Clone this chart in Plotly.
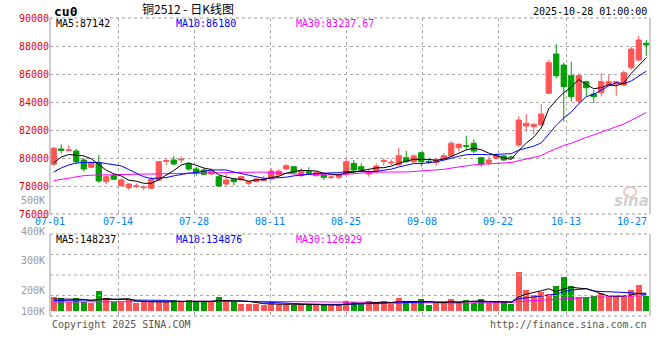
import plotly.graph_objects as go
import pandas as pd

# ---------------- data ----------------
tick_labels = ["07-01", "07-14", "07-28", "08-11", "08-25", "09-08", "09-22", "10-13", "10-27"]
tick_index = [0, 9, 19, 29, 39, 49, 59, 68, 78]

opens = [79550, 80643, 80550, 80500, 79857, 79336, 79643, 78307, 78736, 78021,
         77879, 77980, 77880, 77836, 78420, 79760, 79857, 79860, 79571, 79214,
         79143, 78857, 78664, 78143, 78479, 78429, 78193, 78307, 78380, 78500,
         78786, 79214, 79380, 78736, 79021, 78736, 78786, 78600, 78620, 78836,
         79620, 79380, 78857, 79093, 79760, 79640, 79500, 80021, 79736, 80379,
         79760, 79690, 79930, 80143, 80736, 80880, 81050, 80021, 79664, 79980,
         80143, 80070, 80929, 82286, 82236, 82357, 84621, 87429, 86643, 85879,
         84071, 85450, 84571, 84664, 85214, 85286, 85214, 86450, 87000, 88190]
highs = [80807, 80979, 80930, 80643, 80021, 79736, 80214, 78736, 78836, 78550,
         78193, 78193, 78071, 78664, 79786, 79980, 80143, 80090, 79620, 79380,
         79290, 79264, 78740, 78907, 78479, 78700, 78380, 78550, 78740, 79264,
         79190, 79571, 79400, 79264, 79336, 79071, 78857, 78736, 78900, 79980,
         79857, 79620, 79143, 79620, 79980, 79900, 80736, 80520, 80264, 80450,
         79910, 80021, 80340, 81214, 81050, 81571, 81336, 80093, 80093, 80300,
         80214, 80164, 83000, 83143, 82479, 83857, 87000, 88143, 86807, 86880,
         86050, 85520, 84857, 86050, 85930, 85450, 86236, 87950, 88714, 88430]
lows = [79450, 80336, 80536, 79550, 79021, 79264, 78236, 78143, 78429, 77950,
        77714, 77836, 77714, 77786, 78357, 79500, 79500, 79660, 79090, 78736,
        78790, 78830, 77950, 78000, 78021, 78380, 78071, 78260, 78330, 78429,
        78736, 79143, 78907, 78664, 78857, 78664, 78429, 78479, 78500, 78786,
        79021, 79071, 78664, 78907, 79450, 79500, 79450, 79690, 79571, 79380,
        79571, 79450, 79860, 80093, 80500, 80570, 80336, 79380, 79500, 79900,
        79786, 79910, 80807, 81880, 81714, 82357, 84621, 85690, 82593, 84021,
        83900, 84430, 83930, 84380, 85214, 84450, 85143, 86286, 86930, 87286]
closes = [80693, 80550, 80570, 79736, 79214, 79664, 78357, 78664, 78479, 78429,
          78143, 78000, 77910, 78479, 79736, 79810, 79571, 79910, 79214, 78907,
          78836, 79021, 78000, 78429, 78307, 78664, 78307, 78500, 78500, 79071,
          79071, 79450, 78950, 79093, 78907, 78979, 78620, 78640, 78786, 79736,
          79143, 79143, 79021, 79430, 79810, 79690, 80164, 79736, 80143, 79736,
          79720, 79857, 80164, 81050, 80979, 80840, 80500, 79571, 79857, 80214,
          79857, 80030, 82714, 82479, 82400, 83143, 86807, 85879, 85093, 84380,
          85879, 85021, 84380, 85450, 85450, 85450, 86093, 87786, 88429, 88071]
volumes = [115000, 105000, 77000, 105000, 77000, 66000, 162000, 105000, 77000, 77000,
           88000, 66000, 74000, 77000, 77000, 77000, 88000, 77000, 88000, 77000,
           77000, 77000, 115000, 88000, 77000, 58000, 58000, 58000, 50000, 66000,
           58000, 58000, 50000, 58000, 50000, 50000, 50000, 47000, 47000, 85000,
           72000, 64000, 80000, 68000, 80000, 58000, 105000, 80000, 66000, 97000,
           47000, 66000, 72000, 97000, 68000, 88000, 68000, 97000, 66000, 74000,
           72000, 55000, 322000, 171000, 130000, 157000, 138000, 204000, 281000, 204000,
           115000, 115000, 124000, 149000, 115000, 115000, 115000, 171000, 212000, 121000]

# moving-average values before enough in-window data exists
ma5_head = [79640, 80070, 80250, 80214]
ma10_head = [79000, 79290, 79500, 79640, 79680, 79690, 79690, 79600, 79500]
ma30_head = [78380, 78480, 78580, 78680, 78740, 78770, 78790, 78800, 78810, 78820,
             78830, 78840, 78850, 78860, 78880, 78900, 78920, 78940, 78950, 78960,
             78970, 78980, 78990, 79000, 79000, 78990, 78990, 78990, 78990]
vma5_head = [100000, 100000, 98000, 100000]
vma10_head = [86000, 88000, 88000, 90000, 90000, 90000, 95000, 96000, 96000]
vma30_head = [74000, 74000, 75000, 75000, 75000, 76000, 76000, 77000, 77000, 77000,
              78000, 78000, 78000, 79000, 79000, 79000, 80000, 80000, 80000, 80000,
              81000, 81000, 81000, 82000, 82000, 82000, 82000, 82000, 82000]

price_ma_labels = ["MA5:87142", "MA10:86180", "MA30:83237.67"]
vol_ma_labels = ["MA5:148237", "MA10:134876", "MA30:126929"]
vol_axis_labels = ["500K", "400K", "300K", "200K", "100K"]

# ---------------- helpers ----------------
RED = "#FF5555"
GREEN = "#00A000"
MONO = "DejaVu Sans Mono"
W, H = 660, 360
L, R, T, B = 50, 10, 18, 44
PW, PH = W - L - R, H - T - B


def fx(px):
    return (px - L) / PW


def fy(py):
    return (H - B - py) / PH


def ma(values, window, head):
    s = pd.Series(values, dtype=float).rolling(window).mean().tolist()
    return list(head) + s[len(head):]


n = len(closes)
xs = list(range(n))
ma5 = ma(closes, 5, ma5_head)
ma10 = ma(closes, 10, ma10_head)
ma30 = ma(closes, 30, ma30_head)
vma5 = ma(volumes, 5, vma5_head)
vma10 = ma(volumes, 10, vma10_head)
vma30 = ma(volumes, 30, vma30_head)
vol_colors = [RED if c >= o else GREEN for o, c in zip(opens, closes)]

fig = go.Figure()
fig.add_trace(go.Candlestick(
    x=xs, open=opens, high=highs, low=lows, close=closes,
    increasing=dict(line=dict(color=RED, width=1), fillcolor=RED),
    decreasing=dict(line=dict(color=GREEN, width=1), fillcolor=GREEN),
    whiskerwidth=0, xaxis="x", yaxis="y", showlegend=False, hoverinfo="skip"))
for vals, col in [(ma30, "#FF00FF"), (ma10, "#0000FF"), (ma5, "#000000")]:
    fig.add_trace(go.Scatter(x=xs, y=vals, mode="lines", line=dict(color=col, width=1),
                             xaxis="x", yaxis="y", showlegend=False, hoverinfo="skip"))

fig.add_trace(go.Bar(x=xs, y=volumes, marker=dict(color=vol_colors, line=dict(width=0)),
                     width=0.8, xaxis="x2", yaxis="y2", showlegend=False, hoverinfo="skip"))
for vals, col in [(vma30, "#FF00FF"), (vma10, "#0000FF"), (vma5, "#000000")]:
    fig.add_trace(go.Scatter(x=xs, y=vals, mode="lines", line=dict(color=col, width=1),
                             xaxis="x2", yaxis="y2", showlegend=False, hoverinfo="skip"))

grid_x = [i * n / (n - 1) - 0.5 for i in tick_index[:-1]]
VOL_PER_PX = 8250
vol_zero_px = 311

price_top, price_bot = 18, 214
vol_top, vol_bot = 234, 316

fig.update_layout(
    width=W, height=H, margin=dict(l=L, r=R, t=T, b=B, autoexpand=False),
    paper_bgcolor="white", plot_bgcolor="white",
    boxgap=0.3, boxgroupgap=0,
    bargap=0,
    xaxis=dict(domain=[0, 1], anchor="y", range=[-0.5, n - 0.5], rangeslider=dict(visible=False),
               tickmode="array", tickvals=grid_x, showticklabels=False, automargin=False,
               showgrid=True, gridcolor="#AAAAAA", griddash="dot", gridwidth=1,
               ticks="", zeroline=False, showline=False),
    xaxis2=dict(domain=[0, 1], anchor="y2", matches="x", range=[-0.5, n - 0.5],
                tickmode="array", tickvals=grid_x, showticklabels=False, automargin=False,
                showgrid=True, gridcolor="#AAAAAA", griddash="dot", gridwidth=1,
                ticks="", zeroline=False, showline=False),
    yaxis=dict(domain=[fy(price_bot), 1], anchor="x", range=[76000, 90000], automargin=False,
               tick0=76000, dtick=2000, tickformat="d", showgrid=True, gridcolor="#AAAAAA", griddash="dot",
               ticks="", zeroline=False, showline=False,
               tickfont=dict(family=MONO, size=10, color="#EE0000")),
    yaxis2=dict(domain=[0, fy(vol_top)], anchor="x2", automargin=False,
                range=[-(vol_bot - vol_zero_px) * VOL_PER_PX, (vol_zero_px - vol_top) * VOL_PER_PX],
                showgrid=False, showticklabels=False, ticks="", zeroline=False, showline=False),
)

shapes = []
line_solid = dict(color="#999999", width=1)
line_dot = dict(color="#999999", width=1, dash="dot")
for top, bot in [(price_top, price_bot), (vol_top, vol_bot)]:
    shapes.append(dict(type="line", xref="paper", yref="paper", x0=0, x1=0, y0=fy(bot), y1=fy(top), line=line_solid))
    shapes.append(dict(type="line", xref="paper", yref="paper", x0=1, x1=1, y0=fy(bot), y1=fy(top), line=line_solid))
    shapes.append(dict(type="line", xref="paper", yref="paper", x0=0, x1=1, y0=fy(top), y1=fy(top), line=line_dot))
    shapes.append(dict(type="line", xref="paper", yref="paper", x0=0, x1=1, y0=fy(bot), y1=fy(bot), line=line_dot))
for frac in (0.25, 0.5, 0.75):
    shapes.append(dict(type="line", xref="paper", yref="y2 domain", x0=0, x1=1, y0=frac, y1=frac,
                       line=dict(color="#AAAAAA", width=1, dash="dot")))
# sina watermark eye
shapes.append(dict(type="circle", xref="paper", yref="paper", x0=fx(624), x1=fx(636), y0=fy(197), y1=fy(187),
                   line=dict(color="#F2C4C4", width=2)))
fig.update_layout(shapes=shapes)

ann = []


def text(px, py, s, color="#000000", size=10, xanchor="left", family=MONO, bold=False, italic=False):
    if bold:
        s = "<b>" + s + "</b>"
    if italic:
        s = "<i>" + s + "</i>"
    ann.append(dict(x=fx(px), y=fy(py), xref="paper", yref="paper", text=s, showarrow=False,
                    xanchor=xanchor, yanchor="middle", font=dict(family=family, size=size, color=color)))


text(80, 12, "cu0", size=13, xanchor="right", bold=True)
text(140, 9, "铜2512 - 日K线图", size=12, family="Noto Sans CJK SC")
text(649, 12, "2025-10-28 01:00:00", xanchor="right")
text(54, 24, price_ma_labels[0], color="#000000")
text(174, 24, price_ma_labels[1], color="#0000FF")
text(294, 24, price_ma_labels[2], color="#FF00FF")
text(54, 239, vol_ma_labels[0], color="#000000")
text(174, 239, vol_ma_labels[1], color="#0000FF")
text(294, 239, vol_ma_labels[2], color="#FF00FF")
for lab, py in zip(vol_axis_labels, [200, 231, 260, 290, 311]):
    text(47, py, lab, color="#999999", xanchor="right")
# date labels under the price panel
for lab, gx in zip(tick_labels[:-1], grid_x):
    ann.append(dict(x=gx, y=fy(221), xref="x", yref="paper", text=lab, showarrow=False,
                    xanchor="center", yanchor="middle", font=dict(family=MONO, size=10, color="#0080FF")))
text(649, 221, tick_labels[-1], color="#0080FF", xanchor="right")
text(50, 324, "Copyright 2025 SINA.COM", color="#555555")
text(649, 324, "http://finance.sina.com.cn", color="#555555", xanchor="right")
text(651, 201, "sina", color="#D0D0D0", size=15, xanchor="right", family="DejaVu Sans", bold=True, italic=True)
fig.update_layout(annotations=ann)

fig.write_html("out.html", config={"displayModeBar": False},
               post_script="document.body.style.margin='0';document.body.style.padding='0';")
